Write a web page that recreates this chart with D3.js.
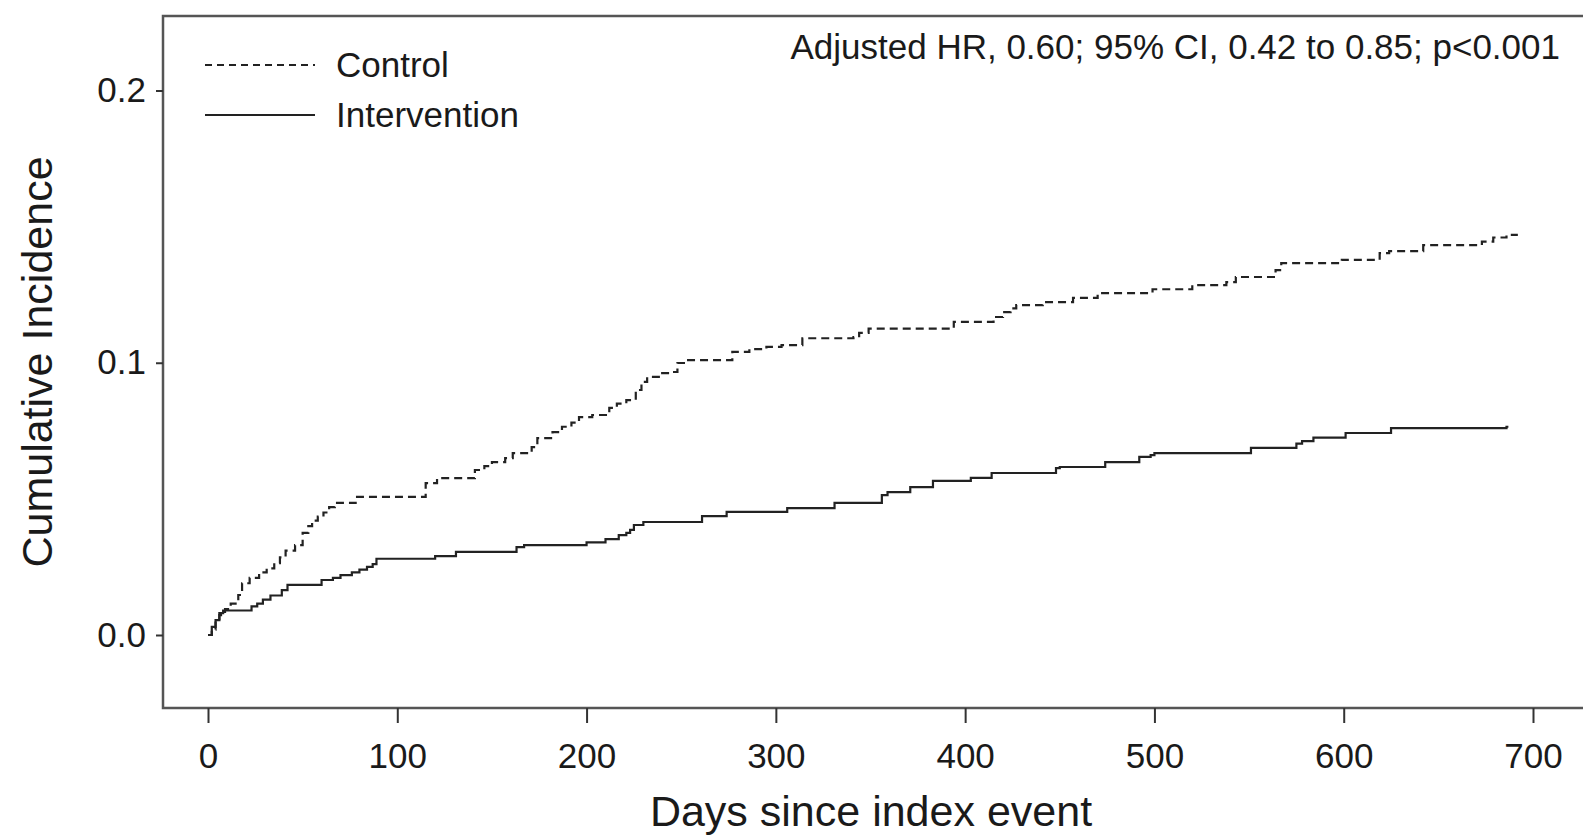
<!DOCTYPE html>
<html>
<head>
<meta charset="utf-8">
<script src="https://cdn.jsdelivr.net/npm/d3@7"></script>
<style>
  body { margin: 0; background: #fff; }
  text { font-family: "Liberation Sans", Arial, sans-serif; fill: #1a1a1a; }
</style>
</head>
<body>
<div id="chart"></div>
<script>
// step points: [day, cumulative incidence]
var controlSteps = [
    [0, 0], [2, 0.002], [4, 0.005], [6, 0.0073], [9, 0.0095], [12, 0.0115], [16, 0.0147],
    [18, 0.019], [22, 0.021], [27, 0.023], [31, 0.0245], [35, 0.0264], [38, 0.0285],
    [41, 0.031], [46, 0.033], [50, 0.0375], [53, 0.040], [55, 0.042], [58, 0.0435],
    [61, 0.045], [64, 0.047], [67, 0.0485], [78, 0.0507], [115, 0.0558], [121, 0.0576],
    [141, 0.0606], [146, 0.062], [150, 0.0635], [157, 0.065], [161, 0.0668], [171, 0.069],
    [174, 0.0723], [182, 0.0745], [187, 0.0765], [192, 0.078], [196, 0.080], [203, 0.0808],
    [212, 0.0834], [216, 0.085], [221, 0.0863], [226, 0.090], [229, 0.093], [232, 0.0948],
    [239, 0.0962], [244, 0.0966], [248, 0.0999], [253, 0.101], [277, 0.104], [286, 0.105],
    [295, 0.1058], [303, 0.1065], [314, 0.109], [341, 0.1094], [344, 0.111], [349, 0.1125],
    [394, 0.115], [415, 0.1168], [420, 0.1186], [424, 0.120], [427, 0.1212], [441, 0.1223],
    [457, 0.1238], [470, 0.1256], [499, 0.1270], [520, 0.1285], [538, 0.1296], [543, 0.1315],
    [564, 0.134], [567, 0.1366], [599, 0.1378], [619, 0.1403], [624, 0.141], [642, 0.1432],
    [673, 0.1445], [679, 0.146], [686, 0.147], [692, 0.147]
];

var interventionSteps = [
    [0, 0], [2, 0.003], [4, 0.0055], [6, 0.008], [8, 0.009], [23, 0.0105], [26, 0.0115],
    [29, 0.013], [33, 0.0145], [39, 0.0165], [42, 0.0184], [60, 0.0202], [66, 0.021],
    [70, 0.022], [76, 0.023], [80, 0.024], [84, 0.025], [87, 0.026], [89, 0.028],
    [120, 0.029], [131, 0.0305], [163, 0.0323], [167, 0.033], [200, 0.034], [210, 0.0352],
    [217, 0.0367], [221, 0.0375], [223, 0.0386], [225, 0.0404], [230, 0.0415], [261, 0.0437],
    [274, 0.0452], [306, 0.0466], [331, 0.0485], [356, 0.0514], [359, 0.0525], [371, 0.0543],
    [383, 0.0566], [403, 0.0577], [414, 0.0595], [448, 0.0613], [450, 0.0617], [474, 0.0635],
    [492, 0.0654], [498, 0.0661], [500, 0.0668], [551, 0.0687], [575, 0.0703], [578, 0.0712],
    [584, 0.0725], [601, 0.0742], [625, 0.076], [686, 0.0765], [687, 0.0765]
];

var xTicks = [0, 100, 200, 300, 400, 500, 600, 700];
var yTicks = [0.0, 0.1, 0.2];
var legendLabels = ["Control", "Intervention"];
var hrNote = "Adjusted HR, 0.60; 95% CI, 0.42 to 0.85; p<0.001";

var w = 1583;
var h = 835;

var svg = d3.select("#chart").append("svg").attr("width", w).attr("height", h);

var xScale = d3.scaleLinear().domain([0, 700]).range([208, 1533]);
var yScale = d3.scaleLinear().domain([0, 0.2]).range([635, 90.5]);

// plot frame (right side runs off the page like in the original)
var box = { left: 163, top: 16, bottom: 708, right: 1600 };

svg.append("path")
    .attr("d", "M" + box.right + "," + box.top + "H" + box.left + "V" + box.bottom + "H" + box.right)
    .attr("fill", "none")
    .attr("stroke", "#555")
    .attr("stroke-width", 2.5);

//Adding the Axises
var xAxis = d3.axisBottom(xScale).tickValues(xTicks).tickSize(15).tickPadding(20).tickFormat(d3.format("d"));
var gx = svg.append("g").attr("transform", "translate(0," + box.bottom + ")").call(xAxis);

var yAxis = d3.axisLeft(yScale).tickValues(yTicks).tickSize(7).tickPadding(10).tickFormat(d3.format(".1f"));
var gy = svg.append("g").attr("transform", "translate(" + box.left + ",0)").call(yAxis);

[gx, gy].forEach(function (g) {
    g.select(".domain").remove();
    g.selectAll(".tick line").attr("stroke", "#333").attr("stroke-width", 2);
    g.selectAll(".tick text")
        .attr("font-family", "Liberation Sans, Arial, sans-serif")
        .attr("font-size", "35px")
        .attr("fill", "#1a1a1a");
});

// axis titles
svg.append("text")
    .attr("x", 871)
    .attr("y", 826)
    .attr("text-anchor", "middle")
    .attr("font-size", "43px")
    .text("Days since index event");

svg.append("text")
    .attr("transform", "rotate(-90)")
    .attr("x", -362)
    .attr("y", 52)
    .attr("text-anchor", "middle")
    .attr("font-size", "43px")
    .text("Cumulative Incidence");

// step curves
var line = d3.line()
    .x(function (d) { return xScale(d[0]); })
    .y(function (d) { return yScale(d[1]); })
    .curve(d3.curveStepAfter);

var series = [
    { name: legendLabels[0], values: controlSteps, dash: "8,5" },
    { name: legendLabels[1], values: interventionSteps, dash: null }
];

svg.selectAll(".curve")
    .data(series)
    .enter()
    .append("path")
    .attr("class", "curve")
    .attr("d", function (d) { return line(d.values); })
    .attr("fill", "none")
    .attr("stroke", "#222")
    .attr("stroke-width", 2.2)
    .attr("stroke-dasharray", function (d) { return d.dash; });

// legend
var legend = svg.selectAll(".legend")
    .data(series)
    .enter()
    .append("g")
    .attr("class", "legend")
    .attr("transform", function (d, i) {
        return "translate(205," + (65 + i * 50) + ")";
    });

legend.append("line")
    .attr("x1", 0)
    .attr("x2", 110)
    .attr("stroke", "#222")
    .attr("stroke-width", 2)
    .attr("stroke-dasharray", function (d) { return d.dash ? "7,5" : null; });

legend.append("text")
    .attr("x", 131)
    .attr("y", 12)
    .attr("font-size", "35px")
    .text(function (d) { return d.name; });

// hazard ratio note
svg.append("text")
    .attr("x", 1560)
    .attr("y", 59)
    .attr("text-anchor", "end")
    .attr("font-size", "35px")
    .text(hrNote);
</script>
</body>
</html>
